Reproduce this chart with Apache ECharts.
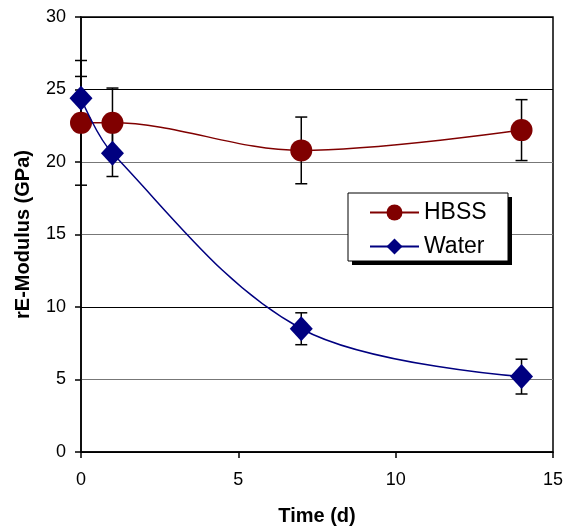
<!DOCTYPE html>
<html>
<head>
<meta charset="UTF-8">
<title>ECharts</title>
<script src="https://cdn.jsdelivr.net/npm/echarts@6/dist/echarts.min.js"></script>
<style>
  html, body { margin: 0; padding: 0; background: #fff; }
</style>
</head>
<body>
<div id="main" style="width:564px;height:527px;"></div>
<script>
// time points (d)
var days = [0, 1, 7, 14];
// HBSS: mean and error (GPa)
var hbssMean = [22.7, 22.7, 20.8, 22.2];
var hbssErr  = [4.3, 2.4, 2.3, 2.1];
// Water: mean and error (GPa)
var waterMean = [24.4, 20.6, 8.5, 5.2];
var waterErr  = [1.5, 1.6, 1.1, 1.2];

function pairs(x, y) {
    var out = [];
    for (var i = 0; i < x.length; i++) out.push([x[i], y[i]]);
    return out;
}
function errData(x, y, e) {
    var out = [];
    for (var i = 0; i < x.length; i++) out.push([x[i], y[i] - e[i], y[i] + e[i]]);
    return out;
}
// vertical error bar with caps
function errRender(params, api) {
    var lo = api.coord([api.value(0), api.value(1)]);
    var hi = api.coord([api.value(0), api.value(2)]);
    var w = 6;
    var st = { stroke: '#000', lineWidth: 1.5 };
    return {
        type: 'group',
        children: [
            { type: 'line', shape: { x1: lo[0], y1: lo[1], x2: hi[0], y2: hi[1] }, style: st },
            { type: 'line', shape: { x1: lo[0] - w, y1: lo[1], x2: lo[0] + w, y2: lo[1] }, style: st },
            { type: 'line', shape: { x1: hi[0] - w, y1: hi[1], x2: hi[0] + w, y2: hi[1] }, style: st }
        ]
    };
}

var chart = echarts.init(document.getElementById('main'));
var font = 'Liberation Sans, Arial, sans-serif';

chart.setOption({
    animation: false,
    textStyle: { fontFamily: font },
    grid: {
        left: 81, top: 17, right: 11, bottom: 75,
        outerBoundsMode: 'none',
        show: true, borderColor: '#000', borderWidth: 1.5
    },
    // legend frame + drop shadow
    graphic: [
        { type: 'rect', z: 5, shape: { x: 352, y: 197, width: 160, height: 68 }, style: { fill: '#000' } },
        { type: 'rect', z: 6, shape: { x: 348, y: 193, width: 160, height: 68 }, style: { fill: '#fff', stroke: '#000', lineWidth: 1 } }
    ],
    legend: {
        data: ['HBSS', 'Water'],
        orient: 'vertical',
        left: 369, top: 201,
        padding: 0,
        itemGap: 11,
        itemWidth: 49, itemHeight: 20,
        z: 10,
        textStyle: { fontSize: 23, color: '#000', fontFamily: font }
    },
    xAxis: {
        type: 'value', min: 0, max: 15, interval: 5,
        name: 'Time (d)', nameLocation: 'middle', nameGap: 54,
        nameTextStyle: { fontSize: 20, fontWeight: 'bold', color: '#000' },
        axisLine: { lineStyle: { color: '#000', width: 1.5 } },
        axisTick: { show: true, length: 6, lineStyle: { color: '#000', width: 1.5 } },
        axisLabel: { fontSize: 18, color: '#000', margin: 19 },
        splitLine: { show: false }
    },
    yAxis: {
        type: 'value', min: 0, max: 30, interval: 5,
        name: 'rE-Modulus (GPa)', nameLocation: 'middle', nameGap: 48,
        nameTextStyle: { fontSize: 20, fontWeight: 'bold', color: '#000' },
        axisLine: { show: true, lineStyle: { color: '#000', width: 1.5 } },
        axisTick: { show: true, length: 6, lineStyle: { color: '#000', width: 1.5 } },
        axisLabel: { fontSize: 18, color: '#000', margin: 15 },
        splitLine: { show: true, lineStyle: { color: ['#000', '#777', '#000', '#777', '#777', '#000', '#000'], width: 1 } }
    },
    series: [
        {
            type: 'custom', name: 'hbssErr', renderItem: errRender, z: 1,
            data: errData(days, hbssMean, hbssErr), silent: true
        },
        {
            type: 'custom', name: 'waterErr', renderItem: errRender, z: 1,
            data: errData(days, waterMean, waterErr), silent: true
        },
        {
            name: 'HBSS', type: 'line', smooth: 0.35, z: 3,
            data: pairs(days, hbssMean),
            symbol: 'circle', symbolSize: 22,
            lineStyle: { color: '#800000', width: 1.5 },
            itemStyle: { color: '#800000' }
        },
        {
            name: 'Water', type: 'line', smooth: 0.35, z: 4,
            data: pairs(days, waterMean),
            symbol: 'diamond', symbolSize: [23, 25],
            lineStyle: { color: '#000080', width: 1.5 },
            itemStyle: { color: '#000080' }
        }
    ]
});
</script>
</body>
</html>
